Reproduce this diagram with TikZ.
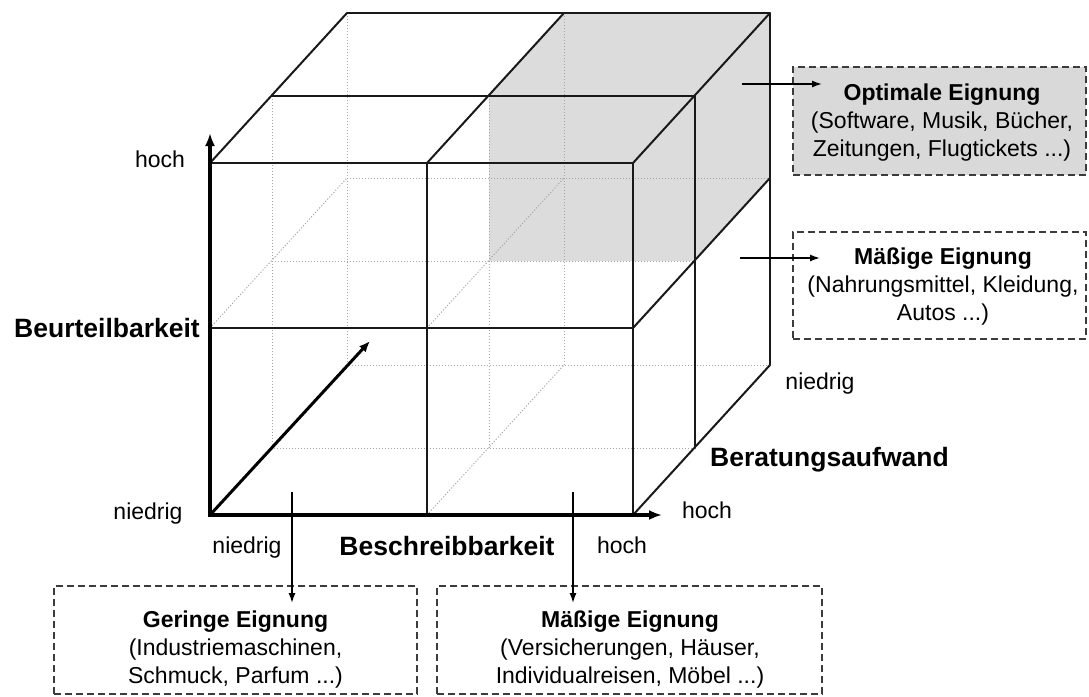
\documentclass[tikz,border=0pt]{standalone}
\usepackage{fontspec}
\setmainfont{Liberation Sans}
\usetikzlibrary{arrows.meta,calc}
\definecolor{shadecol}{RGB}{220,220,220}
\definecolor{boxfill}{RGB}{217,217,217}
\definecolor{hidcol}{RGB}{165,165,165}
\definecolor{dashcol}{RGB}{60,60,60}
\definecolor{ink}{RGB}{25,25,25}
\begin{document}
\begin{tikzpicture}[x=1pt,y=-1pt,
  cubeline/.style={draw=ink, line width=2pt, line cap=round, line join=round},
  hidden/.style={draw=hidcol, line width=0.9pt, dash pattern=on 1.2pt off 1.8pt},
  axis/.style={draw=black, line width=3.5pt, line cap=rect, -{Latex[length=13pt,width=10pt]}},
  ptr/.style={draw=black, line width=1.4pt, -{Latex[length=10pt,width=7pt]}},
  infobox/.style={draw=dashcol, line width=1.5pt, dash pattern=on 7pt off 4pt, inner sep=0pt},
  boxtext/.style={align=center, font=\fontsize{23}{28}\selectfont, inner sep=0pt},
  lab/.style={font=\fontsize{23}{28}\selectfont, inner sep=0pt},
  axlab/.style={font=\fontsize{26.5}{30}\selectfont\bfseries, inner sep=0pt},
]
\useasboundingbox (0,0) rectangle (1089,696);

% grid corners: front, middle depth, back
\foreach \i/\x in {0/210,1/427,2/633}{
  \foreach \j/\y in {0/163,1/328,2/515}{
    \coordinate (f\i\j) at (\x,\y);
    \coordinate (m\i\j) at (\x+62,\y-67);
    \coordinate (b\i\j) at (\x+137,\y-150);
  }
}

% shaded octant
\fill[shadecol] (m10) -- (b10) -- (b20) -- (b21) -- (m21) -- (m11) -- cycle;

% hidden lines
\draw[hidden] (b00) -- (b02) -- (b22);
\draw[hidden] (b10) -- (b12);
\draw[hidden] (b01) -- (b21);
\draw[hidden] (m00) -- (m02) -- (m22);
\draw[hidden] (m10) -- (m12);
\draw[hidden] (m01) -- (m21);
\draw[hidden] (f01) -- (b01);
\draw[hidden] (f11) -- (b11);
\draw[hidden] (f02) -- (b02);
\draw[hidden] (f12) -- (b12);

% visible cube lines
\draw[cubeline] (f00) -- (f20) -- (f22);
\draw[cubeline] (m00) -- (m20) -- (m22);
\draw[cubeline] (b00) -- (b20) -- (b22);
\draw[cubeline] (f00) -- (b00);
\draw[cubeline] (f10) -- (b10);
\draw[cubeline] (f20) -- (b20);
\draw[cubeline] (f21) -- (b21);
\draw[cubeline] (f22) -- (b22);
\draw[cubeline] (f10) -- (f12);
\draw[cubeline] (f01) -- (f21);

% axes
\coordinate (ytip) at (210,133);
\coordinate (xtip) at (662,515);
\coordinate (ztip) at (370,341);
\draw[axis] (f02) -- (ytip);
\draw[axis] (f02) -- (xtip);
\draw[draw=black, line width=3pt, -{Latex[length=11pt,width=9pt]}] (f02) -- (ztip);

% axis labels
\node[lab, anchor=base] (hochY) at (160,167) {hoch};
\node[axlab, anchor=base east] (beurt) at (200,337) {Beurteilbarkeit};
\node[lab, anchor=base] (niedrigY) at (148,519) {niedrig};
\node[lab, anchor=base] (niedrigX) at (247,553) {niedrig};
\node[axlab, anchor=base] (beschr) at (447,555) {Beschreibbarkeit};
\node[lab, anchor=base] (hochX) at (622,553) {hoch};
\node[lab, anchor=base] (hochZ) at (707,518) {hoch};
\node[lab, anchor=base] (niedrigZ) at (820,389) {niedrig};
\node[axlab, anchor=base west] (berat) at (710,466) {Beratungsaufwand};

% boxes
\node[infobox, fill=boxfill, minimum width=293pt, minimum height=108pt] (optbox) at (939.5,121) {};
\node[boxtext] (opttext) at (942,123) {\textbf{Optimale Eignung}\\(Software, Musik, Bücher,\\Zeitungen, Flugtickets ...)};

\node[infobox, minimum width=293pt, minimum height=107pt] (midbox) at (939.5,285.5) {};
\node[boxtext] (midtext) at (943,287) {\textbf{Mäßige Eignung}\\(Nahrungsmittel, Kleidung,\\Autos ...)};

\node[infobox, minimum width=363pt, minimum height=108pt] (lowbox) at (235.5,640) {};
\node[boxtext] (lowtext) at (235.5,650) {\textbf{Geringe Eignung}\\(Industriemaschinen,\\Schmuck, Parfum ...)};

\node[infobox, minimum width=385pt, minimum height=108pt] (mid2box) at (629.5,640) {};
\node[boxtext] (mid2text) at (630,650) {\textbf{Mäßige Eignung}\\(Versicherungen, Häuser,\\Individualreisen, Möbel ...)};

% pointers
\coordinate (p1s) at (742,84);  \coordinate (p1e) at (822,84);
\coordinate (p2s) at (740,258); \coordinate (p2e) at (820,258);
\coordinate (p3s) at (292,492); \coordinate (p3e) at (292,603);
\coordinate (p4s) at (573,492); \coordinate (p4e) at (573,603);
\draw[ptr] (p1s) -- (p1e);
\draw[ptr] (p2s) -- (p2e);
\draw[ptr] (p3s) -- (p3e);
\draw[ptr] (p4s) -- (p4e);
\end{tikzpicture}
\end{document}
